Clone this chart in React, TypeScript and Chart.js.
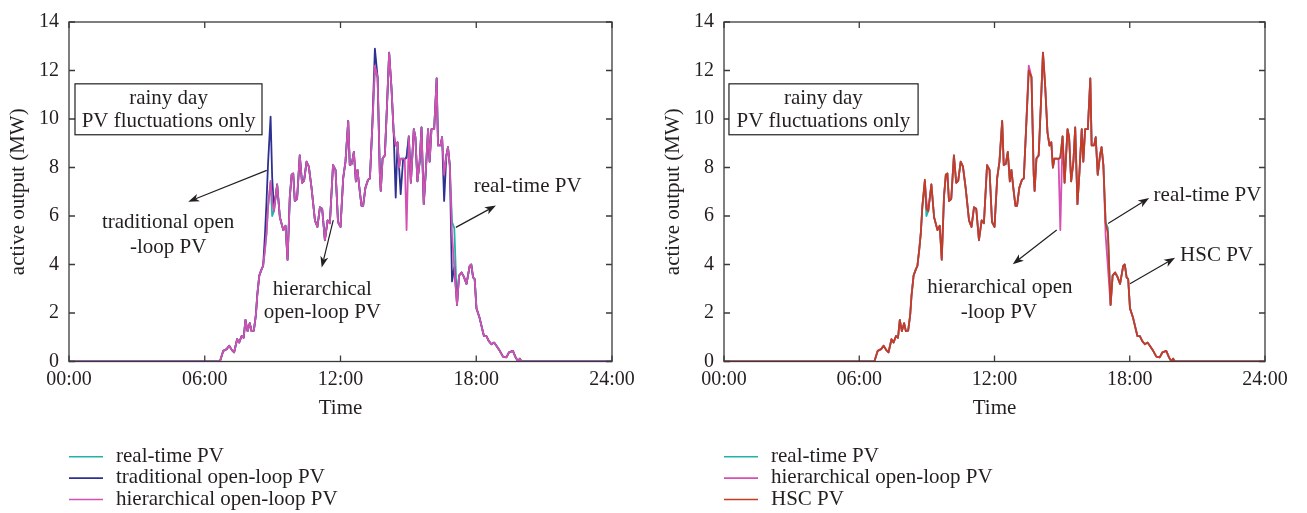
import React, { useEffect, useRef } from "react";
import { Chart, registerables } from "chart.js";

Chart.register(...registerables);

// ---------- data (time in hours, output in MW) ----------
const hours = [
  0, 6.67, 6.82, 6.97, 7.08, 7.2, 7.3, 7.43, 7.52, 7.63,
  7.72, 7.8, 7.89, 7.99, 8.07, 8.17, 8.26, 8.32, 8.41, 8.51,
  8.58, 8.66, 8.73, 8.8, 8.91, 8.98, 9.06, 9.2, 9.32, 9.47,
  9.57, 9.66, 9.76, 9.84, 9.91, 9.98, 10.08, 10.2, 10.3, 10.39,
  10.5, 10.6, 10.72, 10.87, 10.98, 11.09, 11.19, 11.31, 11.43, 11.53,
  11.67, 11.78, 11.89, 12.0, 12.12, 12.22, 12.34, 12.41, 12.5, 12.59,
  12.68, 12.75, 12.85, 12.93, 13.0, 13.1, 13.22, 13.3, 13.4, 13.52,
  13.64, 13.74, 13.78, 13.86, 13.96, 14.06, 14.15, 14.25, 14.35, 14.44,
  14.52, 14.59, 14.66, 14.77, 14.84, 14.92, 15.02, 15.11, 15.24, 15.31,
  15.4, 15.5, 15.58, 15.68, 15.77, 15.87, 15.94, 16.02, 16.14, 16.25,
  16.31, 16.42, 16.49, 16.58, 16.68, 16.75, 16.83, 16.93, 17.03, 17.15,
  17.24, 17.35, 17.45, 17.57, 17.71, 17.78, 17.86, 17.93, 18.01, 18.15,
  18.27, 18.34, 18.45, 18.55, 18.67, 18.79, 18.89, 19.04, 19.18, 19.33,
  19.45, 19.62, 19.74, 19.85, 19.92, 20.0, 24,
];

const realTimePV = [
  0, 0, 0.44, 0.51, 0.65, 0.47, 0.38, 0.92, 0.78, 1.05,
  0.98, 1.72, 1.25, 1.58, 1.25, 1.27, 1.92, 2.73, 3.54, 3.8,
  3.94, 4.6, 5.28, 6.4, 7.4, 6.0, 6.2, 7.3, 5.95, 5.42,
  5.6, 4.2, 6.8, 7.7, 7.75, 6.62, 6.7, 8.5, 7.37, 7.45,
  8.24, 8.04, 7.16, 5.82, 5.55, 6.36, 6.3, 5.0, 5.82, 5.7,
  8.1, 7.9, 5.75, 5.55, 7.57, 8.24, 9.92, 8.1, 8.15, 8.64,
  7.43, 7.9, 7.03, 6.42, 6.42, 7.16, 7.5, 7.55, 9.58, 12.0,
  11.73, 7.7, 7.03, 8.37, 8.5, 10.66, 12.74, 11.33, 9.45, 8.9,
  9.04, 8.0, 8.37, 8.37, 8.35, 8.45, 9.28, 7.37, 9.58, 9.25,
  7.43, 8.24, 9.65, 6.49, 7.83, 9.58, 8.24, 9.58, 9.58, 11.67,
  8.91, 8.91, 9.25, 7.7, 8.5, 8.84, 8.1, 5.75, 5.5, 2.33,
  3.54, 3.67, 3.5, 3.2, 3.94, 4.0, 3.47, 3.4, 2.19, 1.79,
  1.32, 1.05, 1.05, 0.85, 0.71, 0.78, 0.65, 0.44, 0.2, 0.17,
  0.38, 0.44, 0.17, 0, 0.12, 0, 0,
];

const traditionalPV = [
  0, 0, 0.44, 0.51, 0.65, 0.47, 0.38, 0.92, 0.78, 1.05,
  0.98, 1.72, 1.25, 1.58, 1.25, 1.27, 1.92, 2.73, 3.54, 3.8,
  3.94, 5.2, 6.6, 8.2, 10.1, 7.6, 6.3, 7.3, 5.95, 5.42,
  5.6, 4.2, 6.8, 7.7, 7.75, 6.62, 6.7, 8.5, 7.37, 7.45,
  8.24, 8.04, 7.16, 5.82, 5.55, 6.36, 6.3, 5.0, 5.82, 5.7,
  8.1, 7.9, 5.75, 5.55, 7.57, 8.24, 9.92, 8.1, 8.15, 8.64,
  7.43, 7.9, 7.03, 6.42, 6.42, 7.16, 7.5, 7.55, 9.58, 12.9,
  11.73, 7.7, 7.03, 8.37, 8.5, 10.66, 12.74, 11.33, 9.45, 6.76,
  9.04, 8.0, 6.9, 8.37, 8.35, 8.4, 9.28, 7.37, 9.58, 9.25,
  7.43, 8.24, 9.65, 6.49, 7.83, 9.58, 8.24, 9.58, 9.58, 11.67,
  8.91, 8.91, 9.25, 6.62, 8.5, 8.84, 8.1, 3.3, 3.9, 2.33,
  3.54, 3.67, 3.5, 3.2, 3.94, 4.0, 3.47, 3.4, 2.19, 1.79,
  1.32, 1.05, 1.05, 0.85, 0.71, 0.78, 0.65, 0.44, 0.2, 0.17,
  0.38, 0.44, 0.17, 0, 0.12, 0, 0,
];

const hierarchicalPV = [
  0, 0, 0.44, 0.51, 0.65, 0.47, 0.38, 0.92, 0.78, 1.05,
  0.98, 1.72, 1.25, 1.58, 1.25, 1.27, 1.92, 2.73, 3.54, 3.8,
  3.94, 4.6, 5.28, 6.4, 7.45, 6.6, 6.2, 7.3, 5.95, 5.42,
  5.6, 4.2, 6.8, 7.7, 7.75, 6.62, 6.7, 8.5, 7.37, 7.45,
  8.24, 8.04, 7.16, 5.82, 5.55, 6.36, 6.3, 5.0, 5.82, 5.7,
  8.1, 7.9, 5.75, 5.55, 7.57, 8.24, 9.92, 8.1, 8.15, 8.64,
  7.43, 7.9, 7.03, 6.42, 6.42, 7.16, 7.5, 7.55, 9.58, 12.2,
  11.73, 7.7, 7.03, 8.37, 8.5, 10.66, 12.74, 11.33, 9.45, 8.9,
  9.04, 8.0, 8.37, 8.37, 8.35, 5.42, 9.28, 7.37, 9.58, 9.25,
  7.43, 8.24, 9.65, 6.49, 7.83, 9.58, 8.24, 9.58, 9.58, 11.67,
  8.91, 8.91, 9.25, 7.7, 8.5, 8.84, 8.1, 5.2, 3.9, 2.33,
  3.54, 3.67, 3.5, 3.2, 3.94, 4.0, 3.47, 3.4, 2.19, 1.79,
  1.32, 1.05, 1.05, 0.85, 0.71, 0.78, 0.65, 0.44, 0.2, 0.17,
  0.38, 0.44, 0.17, 0, 0.12, 0, 0,
];

const hscPV = [
  0, 0, 0.44, 0.51, 0.65, 0.47, 0.38, 0.92, 0.78, 1.05,
  0.98, 1.72, 1.25, 1.58, 1.25, 1.27, 1.92, 2.73, 3.54, 3.8,
  3.94, 4.6, 5.28, 6.4, 7.5, 6.3, 6.2, 7.3, 5.95, 5.42,
  5.6, 4.2, 6.8, 7.7, 7.75, 6.62, 6.7, 8.5, 7.37, 7.45,
  8.24, 8.04, 7.16, 5.82, 5.55, 6.36, 6.3, 5.0, 5.82, 5.7,
  8.1, 7.9, 5.75, 5.55, 7.57, 8.24, 9.92, 8.1, 8.15, 8.64,
  7.43, 7.9, 7.03, 6.42, 6.42, 7.16, 7.5, 7.55, 9.58, 12.0,
  11.73, 7.7, 7.03, 8.37, 8.5, 10.66, 12.74, 11.33, 9.45, 8.9,
  9.04, 8.0, 8.37, 8.37, 8.35, 8.4, 9.28, 7.37, 9.58, 9.25,
  7.43, 8.24, 9.65, 6.49, 7.83, 9.58, 8.24, 9.58, 9.58, 11.67,
  8.91, 8.91, 9.25, 7.7, 8.5, 8.84, 8.1, 5.7, 5.3, 2.33,
  3.54, 3.67, 3.5, 3.2, 3.94, 4.0, 3.47, 3.4, 2.19, 1.79,
  1.32, 1.05, 1.05, 0.85, 0.71, 0.78, 0.65, 0.44, 0.2, 0.17,
  0.38, 0.44, 0.17, 0, 0.12, 0, 0,
];

const yTicks = [0, 2, 4, 6, 8, 10, 12, 14];
const xTickHours = [0, 6, 12, 18, 24];
const xTickLabels = ["00:00", "06:00", "12:00", "18:00", "24:00"];

const seriesLabels = {
  real: "real-time PV",
  trad: "traditional open-loop PV",
  hier: "hierarchical open-loop PV",
  hsc: "HSC PV",
};

const COLORS = {
  real: "#1fb3aa",
  trad: "#2e3192",
  hier: "#d451b2",
  hsc: "#c23d22",
};

const TEXT = "#231f20";
const AXIS = "#3a3a3a";
const FONT_FAMILY = "'Liberation Serif', 'Times New Roman', serif";
const TICK_SIZE = 20;
const TEXT_SIZE = 21;

// ---------- annotations (in data coordinates: hours, MW) ----------
type Note = {
  box: { x0: number; x1: number; y0: number; y1: number };
  texts: { x: number; y: number; s: string }[];
  arrows: { x0: number; y0: number; x1: number; y1: number }[];
};

const leftNotes: Note = {
  box: { x0: 0.265, x1: 8.53, y0: 11.45, y1: 9.35 },
  texts: [
    { x: 4.4, y: 10.63, s: "rainy day" },
    { x: 4.4, y: 9.69, s: "PV fluctuations only" },
    { x: 4.38, y: 5.49, s: "traditional open" },
    { x: 4.38, y: 4.49, s: "-loop PV" },
    { x: 11.2, y: 2.74, s: "hierarchical" },
    { x: 11.2, y: 1.78, s: "open-loop PV" },
    { x: 20.27, y: 6.97, s: "real-time PV" },
  ],
  arrows: [
    { x0: 8.74, y0: 7.88, x1: 5.27, y1: 6.59 },
    { x0: 11.68, y0: 5.83, x1: 11.17, y1: 3.88 },
    { x0: 17.1, y0: 5.53, x1: 18.87, y1: 6.43 },
  ],
};

const rightNotes: Note = {
  box: { x0: 0.22, x1: 8.61, y0: 11.45, y1: 9.35 },
  texts: [
    { x: 4.41, y: 10.63, s: "rainy day" },
    { x: 4.41, y: 9.69, s: "PV fluctuations only" },
    { x: 12.24, y: 2.81, s: "hierarchical open" },
    { x: 12.2, y: 1.8, s: "-loop PV" },
    { x: 21.45, y: 6.63, s: "real-time PV" },
    { x: 21.85, y: 4.15, s: "HSC PV" },
  ],
  arrows: [
    { x0: 14.76, y0: 5.42, x1: 12.81, y1: 4.01 },
    { x0: 17.04, y0: 5.69, x1: 18.86, y1: 6.74 },
    { x0: 18.01, y0: 3.21, x1: 20.01, y1: 4.28 },
  ],
};

function makeNotesPlugin(notes: Note) {
  return {
    id: "frameNotesLegend",
    afterDraw(chart: any) {
      const { ctx, chartArea: a, scales } = chart;
      const xs = scales.x;
      const ys = scales.y;
      const px = (v: number) => xs.getPixelForValue(v);
      const py = (v: number) => ys.getPixelForValue(v);
      ctx.save();

      // frame
      ctx.strokeStyle = AXIS;
      ctx.lineWidth = 1.3;
      ctx.strokeRect(a.left, a.top, a.right - a.left, a.bottom - a.top);

      // inward ticks on all four sides
      const TL = 6;
      ctx.beginPath();
      xTickHours.forEach((h) => {
        const x = px(h);
        ctx.moveTo(x, a.bottom);
        ctx.lineTo(x, a.bottom - TL);
        ctx.moveTo(x, a.top);
        ctx.lineTo(x, a.top + TL);
      });
      yTicks.forEach((v) => {
        const y = py(v);
        ctx.moveTo(a.left, y);
        ctx.lineTo(a.left + TL, y);
        ctx.moveTo(a.right, y);
        ctx.lineTo(a.right - TL, y);
      });
      ctx.stroke();

      // info box
      const b = notes.box;
      ctx.fillStyle = "#ffffff";
      ctx.strokeStyle = TEXT;
      ctx.lineWidth = 1.2;
      const bx = px(b.x0);
      const by = py(b.y0);
      const bw = px(b.x1) - bx;
      const bh = py(b.y1) - by;
      ctx.fillRect(bx, by, bw, bh);
      ctx.strokeRect(bx, by, bw, bh);

      // texts
      ctx.fillStyle = TEXT;
      ctx.font = `${TEXT_SIZE}px ${FONT_FAMILY}`;
      ctx.textAlign = "center";
      ctx.textBaseline = "alphabetic";
      notes.texts.forEach((t) => ctx.fillText(t.s, px(t.x), py(t.y)));

      // arrows
      ctx.strokeStyle = TEXT;
      ctx.fillStyle = TEXT;
      ctx.lineWidth = 1.2;
      notes.arrows.forEach((ar) => {
        const x0 = px(ar.x0);
        const y0 = py(ar.y0);
        const x1 = px(ar.x1);
        const y1 = py(ar.y1);
        const ang = Math.atan2(y1 - y0, x1 - x0);
        const L = 11;
        const W = 4;
        const bxh = x1 - L * Math.cos(ang);
        const byh = y1 - L * Math.sin(ang);
        ctx.beginPath();
        ctx.moveTo(x0, y0);
        ctx.lineTo(bxh + 3 * Math.cos(ang), byh + 3 * Math.sin(ang));
        ctx.stroke();
        ctx.beginPath();
        ctx.moveTo(x1, y1);
        ctx.lineTo(bxh + W * Math.sin(ang), byh - W * Math.cos(ang));
        ctx.lineTo(bxh + 3 * Math.cos(ang), byh + 3 * Math.sin(ang));
        ctx.lineTo(bxh - W * Math.sin(ang), byh + W * Math.cos(ang));
        ctx.closePath();
        ctx.fill();
      });

      // legend (vertical list under the plot)
      ctx.textAlign = "left";
      ctx.textBaseline = "alphabetic";
      chart.data.datasets.forEach((ds: any, i: number) => {
        const ly = a.bottom + 95.2 + i * 21.4;
        ctx.strokeStyle = ds.borderColor;
        ctx.lineWidth = 1.6;
        ctx.beginPath();
        ctx.moveTo(a.left, ly);
        ctx.lineTo(a.left + 34, ly);
        ctx.stroke();
        ctx.fillStyle = TEXT;
        ctx.fillText(ds.label, a.left + 47, ly + 5.2);
      });

      ctx.restore();
    },
  };
}

type Series = { key: keyof typeof COLORS; values: number[] };

function PVChart(props: { left: number; width: number; plotWidth: number; series: Series[]; notes: Note }) {
  const ref = useRef<HTMLCanvasElement | null>(null);
  const { left, width, plotWidth, series, notes } = props;

  useEffect(() => {
    if (!ref.current) return;
    const tickFont = { family: FONT_FAMILY, size: TICK_SIZE };
    const titleFont = { family: FONT_FAMILY, size: TEXT_SIZE };
    const n = series.length;
    const chart = new Chart(ref.current, {
      type: "line",
      data: {
        datasets: series.map((s, i) => ({
          label: seriesLabels[s.key],
          data: hours.map((h, j) => ({ x: h, y: s.values[j] })),
          borderColor: COLORS[s.key],
          backgroundColor: COLORS[s.key],
          borderWidth: 1.8,
          pointRadius: 0,
          tension: 0,
          borderJoinStyle: "round" as const,
          fill: false,
          order: n - i,
        })),
      },
      options: {
        animation: false,
        responsive: false,
        events: [],
        color: TEXT,
        layout: {
          autoPadding: false,
          padding: { left: 0, top: 13.5, right: width - 69 - plotWidth, bottom: 91.5 },
        },
        plugins: {
          legend: { display: false },
          tooltip: { enabled: false },
        },
        scales: {
          x: {
            type: "linear",
            min: 0,
            max: 24,
            afterBuildTicks: (s: any) => {
              s.ticks = xTickHours.map((v) => ({ value: v }));
            },
            afterFit: (s: any) => {
              s.height = 60;
            },
            ticks: {
              color: TEXT,
              font: tickFont,
              padding: 6,
              maxRotation: 0,
              autoSkip: false,
              callback: (v: any) => xTickLabels[xTickHours.indexOf(Number(v))] ?? "",
            },
            grid: { display: false, drawTicks: false },
            border: { display: false },
            title: { display: true, text: "Time", color: TEXT, font: titleFont, padding: { top: 0, bottom: 0 } },
          },
          y: {
            type: "linear",
            min: 0,
            max: 14,
            afterBuildTicks: (s: any) => {
              s.ticks = yTicks.map((v) => ({ value: v }));
            },
            afterFit: (s: any) => {
              s.width = 69;
            },
            ticks: { color: TEXT, font: tickFont, padding: 10 },
            grid: { display: false, drawTicks: false },
            border: { display: false },
            title: {
              display: true,
              text: "active output (MW)",
              color: TEXT,
              font: titleFont,
              padding: { top: 6, bottom: 0 },
            },
          },
        },
      },
      plugins: [makeNotesPlugin(notes)],
    } as any);
    return () => chart.destroy();
  }, []);

  return (
    <div style={{ position: "absolute", left, top: 0, width, height: 513 }}>
      <canvas ref={ref} width={width} height={513} style={{ width, height: 513, display: "block" }} />
    </div>
  );
}

export default function App() {
  const leftSeries: Series[] = [
    { key: "real", values: realTimePV },
    { key: "trad", values: traditionalPV },
    { key: "hier", values: hierarchicalPV },
  ];
  const rightSeries: Series[] = [
    { key: "real", values: realTimePV },
    { key: "hier", values: hierarchicalPV },
    { key: "hsc", values: hscPV },
  ];
  return (
    <div style={{ position: "fixed", left: 0, top: 0, width: 1307, height: 513, background: "#ffffff" }}>
      <PVChart left={0} width={650} plotWidth={543} series={leftSeries} notes={leftNotes} />
      <PVChart left={655} width={652} plotWidth={541} series={rightSeries} notes={rightNotes} />
    </div>
  );
}
